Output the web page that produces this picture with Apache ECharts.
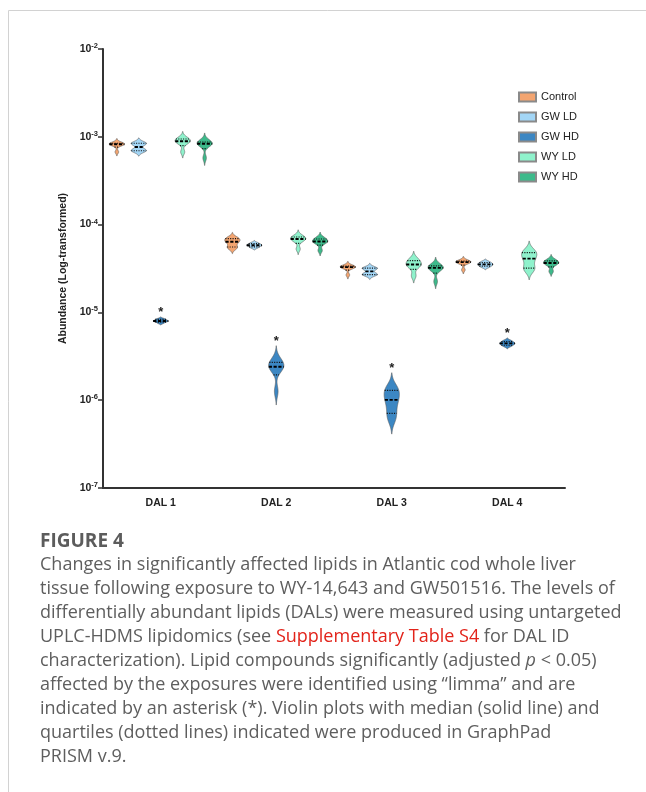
<!DOCTYPE html>
<html><head><meta charset="utf-8">
<script src="https://cdn.jsdelivr.net/npm/echarts@6/dist/echarts.min.js"></script>
<style>html,body{margin:0;padding:0;background:#fff;}#c{width:646px;height:792px;}</style>
</head><body><div id="c"></div>
<script>
// ---------- data ----------
const categories = ['DAL 1', 'DAL 2', 'DAL 3', 'DAL 4'];
const groupNames = ['Control', 'GW LD', 'GW HD', 'WY LD', 'WY HD'];
const groupColors = ['#F3A571', '#A3D6F6', '#3C87C3', '#8FF2CC', '#3DBA8B'];
const yTickExponents = [-7, -6, -5, -4, -3, -2];

// estimated sample abundances per DAL (DAL 1..4) for each group
const controlValues = [
  [8.61e-4, 8.39e-4, 8.28e-4, 8.17e-4, 7.96e-4, 6.72e-4],
  [7.13e-5, 6.86e-5, 6.50e-5, 6.25e-5, 5.63e-5, 5.34e-5],
  [3.43e-5, 3.34e-5, 3.30e-5, 3.26e-5, 3.17e-5, 2.67e-5],
  [3.91e-5, 3.81e-5, 3.76e-5, 3.71e-5, 3.61e-5, 3.05e-5]
];
const gwLDValues = [
  [8.61e-4, 8.39e-4, 8.17e-4, 7.17e-4, 6.98e-4, 6.80e-4],
  [6.22e-5, 6.01e-5, 5.86e-5, 5.78e-5, 5.63e-5, 5.42e-5],
  [3.26e-5, 3.17e-5, 3.09e-5, 2.78e-5, 2.71e-5, 2.64e-5],
  [3.81e-5, 3.66e-5, 3.57e-5, 3.48e-5, 3.39e-5, 3.26e-5]
];
const gwHDValues = [
  [8.47e-6, 8.26e-6, 8.05e-6, 7.94e-6, 7.83e-6, 7.53e-6],
  [2.92e-6, 2.63e-6, 2.49e-6, 2.33e-6, 2.24e-6, 1.26e-6],
  [1.40e-6, 1.26e-6, 1.08e-6, 9.44e-7, 7.45e-7, 6.04e-7],
  [4.80e-6, 4.61e-6, 4.49e-6, 4.38e-6, 4.27e-6, 4.10e-6]
];
const wyLDValues = [
  [9.82e-4, 9.31e-4, 9.08e-4, 8.73e-4, 8.39e-4, 6.72e-4],
  [7.51e-5, 7.13e-5, 6.95e-5, 6.77e-5, 6.42e-5, 5.27e-5],
  [4.12e-5, 3.81e-5, 3.61e-5, 3.43e-5, 3.26e-5, 2.61e-5],
  [5.08e-5, 4.70e-5, 4.34e-5, 3.86e-5, 3.26e-5, 3.01e-5]
];
const wyHDValues = [
  [9.08e-4, 8.61e-4, 8.39e-4, 8.28e-4, 7.96e-4, 5.74e-4],
  [7.13e-5, 6.77e-5, 6.50e-5, 6.34e-5, 6.10e-5, 5.07e-5],
  [3.52e-5, 3.34e-5, 3.26e-5, 3.17e-5, 3.01e-5, 2.25e-5],
  [4.01e-5, 3.81e-5, 3.71e-5, 3.61e-5, 3.43e-5, 2.93e-5]
];
const gwHDSignificant = [true, true, true, true];

const captionTitle = 'FIGURE 4';
const captionLines = [
  'Changes in significantly affected lipids in Atlantic cod whole liver',
  'tissue following exposure to WY-14,643 and GW501516. The levels of',
  'differentially abundant lipids (DALs) were measured using untargeted',
  'UPLC-HDMS lipidomics (see {r|Supplementary Table S4} for DAL ID',
  'characterization). Lipid compounds significantly (adjusted {i|p} < 0.05)',
  'affected by the exposures were identified using \u201climma\u201d and are',
  'indicated by an asterisk (*). Violin plots with median (solid line) and',
  'quartiles (dotted lines) indicated were produced in GraphPad',
  'PRISM v.9.'
];

const groupValues = [controlValues, gwLDValues, gwHDValues, wyLDValues, wyHDValues];
const groupSignificant = [null, null, gwHDSignificant, null, null];

// ---------- helpers ----------
function quantile(sorted, p) {
  const n = sorted.length;
  const pos = (n + 1) * p - 1;
  if (pos <= 0) return sorted[0];
  if (pos >= n - 1) return sorted[n - 1];
  const i = Math.floor(pos);
  return sorted[i] + (pos - i) * (sorted[i + 1] - sorted[i]);
}

function makeRender(gi) {
  return function (params, api) {
    const di = params.dataIndex;
    const L = groupValues[gi][di].map(v => Math.log10(v)).sort((a, b) => a - b);
    const n = L.length;
    const mean = L.reduce((a, b) => a + b, 0) / n;
    const sd = Math.sqrt(L.reduce((a, b) => a + (b - mean) * (b - mean), 0) / (n - 1));
    const h = Math.max(0.72 * sd * Math.pow(n, -0.2), 0.006);
    const lo = L[0] - 2.4 * h, hi = L[n - 1] + 2.4 * h;
    const dens = t => L.reduce((a, l) => a + Math.exp(-0.5 * ((t - l) / h) * ((t - l) / h)), 0);
    const N = 100;
    const ts = [], ds = [];
    let maxD = 0;
    for (let i = 0; i <= N; i++) {
      const t = lo + (hi - lo) * i / N;
      const d = dens(t);
      ts.push(t); ds.push(d);
      if (d > maxD) maxD = d;
    }
    const cs = params.coordSys;
    const band = cs.width / categories.length;
    const cx = api.coord([di, 1e-4])[0] + (gi - 2) * band * 0.19;
    const half = band * 0.066;
    const right = [], left = [];
    for (let i = 0; i <= N; i++) {
      const y = api.coord([di, Math.pow(10, ts[i])])[1];
      let w = ds[i] / maxD * half;
      if (i === 0 || i === N) w = 0;
      right.push([cx + w, y]);
      left.unshift([cx - w, y]);
    }
    const children = [{
      type: 'polygon',
      shape: { points: right.concat(left) },
      style: { fill: groupColors[gi], stroke: '#5a5a5a', lineWidth: 0.6 }
    }];
    const statLine = (t, isMedian) => {
      const w = dens(t) / maxD * half;
      const y = api.coord([di, Math.pow(10, t)])[1];
      return {
        type: 'line',
        shape: { x1: cx - w, y1: y, x2: cx + w, y2: y },
        style: isMedian
          ? { stroke: '#000', lineWidth: 1.9, lineDash: [3.2, 1.6] }
          : { stroke: '#111', lineWidth: 1.2, lineDash: [1.1, 1.3] }
      };
    };
    children.push(statLine(quantile(L, 0.25), false));
    children.push(statLine(quantile(L, 0.75), false));
    children.push(statLine(quantile(L, 0.5), true));
    const sig = groupSignificant[gi];
    if (sig && sig[di]) {
      const yTop = api.coord([di, Math.pow(10, hi)])[1];
      children.push({
        type: 'text',
        style: { text: '*', x: cx, y: yTop - 4, align: 'center', verticalAlign: 'middle',
          font: 'bold 13px "Liberation Sans", Arial, sans-serif', fill: '#222' }
      });
    }
    return { type: 'group', children };
  };
}

function medianOf(vals) {
  const s = vals.slice().sort((a, b) => a - b);
  return quantile(s, 0.5);
}

// ---------- chart ----------
const chart = echarts.init(document.getElementById('c'), null, { renderer: 'canvas' });

const series = groupNames.map((name, gi) => ({
  name,
  type: 'custom',
  renderItem: makeRender(gi),
  clip: false,
  itemStyle: { color: groupColors[gi], borderColor: '#8a8a8a', borderWidth: 0.7 },
  encode: { x: 0, y: 1 },
  data: categories.map((c, i) => [i, medianOf(groupValues[gi][i])])
}));

const font = '"Liberation Sans", Arial, sans-serif';
const capFont = '"Open Sans", "Noto Sans", sans-serif';
const capSize = 18;

const graphics = [{
  type: 'rect', silent: true,
  shape: { x: 8.5, y: 10.5, width: 700, height: 850 },
  style: { fill: 'none', stroke: '#d2d2d2', lineWidth: 1 }
}, {
  type: 'text', left: 40, top: 532,
  style: { text: captionTitle, font: 'bold 19px ' + capFont, fill: '#5c5c5c' }
}];
captionLines.forEach((line, i) => {
  graphics.push({
    type: 'text', left: 40, top: 556 + i * 24,
    style: {
      text: line, font: capSize + 'px ' + capFont, fill: '#5e5e5e',
      rich: {
        r: { fill: '#E2231A', font: capSize + 'px ' + capFont },
        i: { fill: '#5e5e5e', font: 'italic ' + capSize + 'px ' + capFont }
      }
    }
  });
});

chart.setOption({
  animation: false,
  backgroundColor: '#fff',
  grid: { left: 103, right: 81, top: 49, bottom: 304, containLabel: false },
  legend: {
    data: groupNames, orient: 'vertical', left: 513, top: 85,
    icon: 'rect', itemWidth: 17, itemHeight: 9, itemGap: 6,
    textStyle: { fontSize: 11, color: '#222', fontFamily: font, lineHeight: 14 }
  },
  xAxis: {
    type: 'category', data: categories,
    axisLine: { lineStyle: { color: '#333', width: 2 } },
    axisTick: { alignWithLabel: true, length: 5, lineStyle: { color: '#333', width: 1.5 } },
    axisLabel: { color: '#222', fontWeight: 'bold', fontSize: 10.5, fontFamily: font, margin: 10 },
    splitLine: { show: false }
  },
  yAxis: {
    type: 'log', logBase: 10, min: 1e-7, max: 1e-2,
    name: 'Abundance (Log-transformed)', nameLocation: 'middle', nameGap: 31,
    nameTextStyle: { fontWeight: 'bold', fontSize: 10.5, color: '#222', fontFamily: font },
    axisLine: { show: true, lineStyle: { color: '#333', width: 2 } },
    axisTick: { show: true, length: 5, lineStyle: { color: '#333', width: 1.5 } },
    minorTick: { show: false },
    splitLine: { show: false },
    axisLabel: {
      margin: 5,
      formatter: function (v) {
        const e = Math.round(Math.log10(v));
        if (yTickExponents.indexOf(e) < 0) return '';
        return '{b|10}{s|' + e + '}';
      },
      rich: {
        b: { fontSize: 10.5, fontWeight: 'bold', color: '#222', fontFamily: font },
        s: { fontSize: 7.5, fontWeight: 'bold', color: '#222', fontFamily: font, padding: [0, 0, 6, 0] }
      }
    }
  },
  series,
  graphic: graphics
});
</script></body></html>
